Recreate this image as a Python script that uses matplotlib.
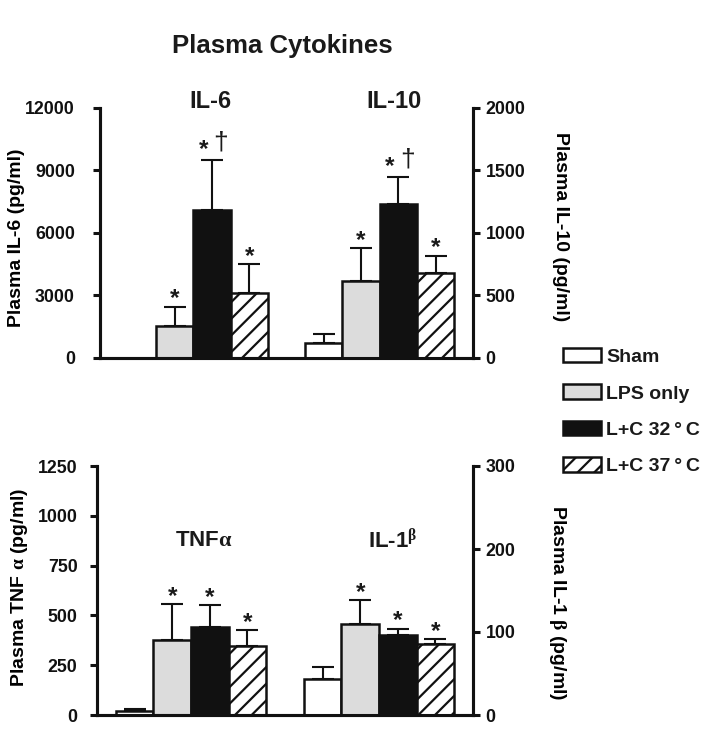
import matplotlib
matplotlib.use("Agg")
import matplotlib.pyplot as plt
from matplotlib.patches import Patch
import numpy as np

plt.rcParams['font.family'] = ['Liberation Sans', 'DejaVu Sans']
plt.rcParams['font.weight'] = 'bold'
plt.rcParams['mathtext.fontset'] = 'custom'
plt.rcParams['mathtext.rm'] = 'Liberation Serif'
plt.rcParams['mathtext.it'] = 'Liberation Serif:italic'
plt.rcParams['mathtext.bf'] = 'Liberation Sans:bold'
plt.rcParams['hatch.linewidth'] = 1.6
plt.rcParams['text.color'] = '#1a1a1a'

groups = ["Sham", "LPS only", "L+C 32\u2009°\u2009C", "L+C 37\u2009°\u2009C"]
colors = ["white", "#dcdcdc", "#111111", "white"]
hatches = [None, None, None, "//"]

il6 = [0, 1500, 7100, 3100]
il6_err = [0, 950, 2400, 1400]
il10 = [120, 615, 1230, 680]
il10_err = [70, 260, 220, 135]
tnf = [20, 378, 440, 345]
tnf_err = [10, 177, 110, 80]
il1b = [43, 110, 96, 86]
il1b_err = [15, 28, 8, 5]

il6_marks = ["", "*", "*†", "*"]
il10_marks = ["", "*", "*†", "*"]
tnf_marks = ["", "*", "*", "*"]
il1b_marks = ["", "*", "*", "*"]

W, H = 704, 730
fig = plt.figure(figsize=(W / 100, H / 100), dpi=100)


def fx(px):
    return px / W


def fy(px):
    return 1 - px / H


ax_top = fig.add_axes([fx(100), fy(357.5), fx(473) - fx(100), fy(108) - fy(357.5)])
ax_bot = fig.add_axes([fx(97), fy(715), fx(473) - fx(97), fy(466) - fy(715)])

pos1 = np.array([1, 2, 3, 4])
pos2 = np.array([6, 7, 8, 9])


def draw(ax, pos, vals, errs, marks):
    for i in range(4):
        ax.bar(pos[i], vals[i], width=1.0, color=colors[i], edgecolor='#111111',
               linewidth=1.8, hatch=hatches[i], zorder=2)
        if errs[i] > 0:
            ax.errorbar(pos[i], vals[i], yerr=[[0], [errs[i]]], fmt='none',
                        ecolor='#111111', elinewidth=1.5, capsize=8, capthick=1.5, zorder=1)
        top = vals[i] + errs[i]
        m = marks[i]
        if m == "*":
            ax.annotate("*", (pos[i], top), xytext=(0, 1), textcoords='offset points',
                        ha='center', va='baseline', fontsize=17.5, fontweight='bold')
        elif m == "*†":
            ax.annotate("*", (pos[i], top), xytext=(-6, 2.5), textcoords='offset points',
                        ha='center', va='baseline', fontsize=17.5, fontweight='bold')
            ax.annotate("†", (pos[i], top), xytext=(6.5, 12.5), textcoords='offset points',
                        ha='center', va='center', fontsize=19, fontweight='normal')


def style(ax):
    ax.set_xlim(0, 10)
    ax.set_xticks([])
    ax.spines['top'].set_visible(False)
    for s in ['left', 'right', 'bottom']:
        ax.spines[s].set_linewidth(2.2)
        ax.spines[s].set_color('#111111')
    ax.tick_params(axis='y', direction='out', length=5, width=2.2, labelsize=12.8, colors='#111111')


# top panel
ax_top2 = ax_top.twinx()
draw(ax_top, pos1, il6, il6_err, il6_marks)
draw(ax_top2, pos2, il10, il10_err, il10_marks)
ax_top.set_ylim(0, 12000)
ax_top.set_yticks([0, 3000, 6000, 9000, 12000])
ax_top2.set_ylim(0, 2000)
ax_top2.set_yticks([0, 500, 1000, 1500, 2000])
style(ax_top)
style(ax_top2)
ax_top.tick_params(axis='y', pad=13)
ax_top2.tick_params(axis='y', pad=4)
ax_top.set_ylabel("Plasma IL-6 (pg/ml)", fontsize=14, fontweight='bold', va='center')
ax_top.yaxis.set_label_coords(-0.225, 0.48)
ax_top2.set_ylabel("Plasma IL-10 (pg/ml)", fontsize=14, fontweight='bold', rotation=270, va='center')
ax_top2.yaxis.set_label_coords(1.235, 0.523)
ax_top.text(2.95, 1.025, "IL-6", transform=ax_top.get_xaxis_transform(), ha='center', va='center',
            fontsize=17, fontweight='bold')
ax_top.text(7.88, 1.025, "IL-10", transform=ax_top.get_xaxis_transform(), ha='center', va='center',
            fontsize=17, fontweight='bold')

# bottom panel
ax_bot2 = ax_bot.twinx()
draw(ax_bot, pos1, tnf, tnf_err, tnf_marks)
draw(ax_bot2, pos2, il1b, il1b_err, il1b_marks)
ax_bot.set_ylim(0, 1250)
ax_bot.set_yticks([0, 250, 500, 750, 1000, 1250])
ax_bot2.set_ylim(0, 300)
ax_bot2.set_yticks([0, 100, 200, 300])
style(ax_bot)
style(ax_bot2)
ax_bot.tick_params(axis='y', pad=9)
ax_bot2.tick_params(axis='y', pad=4)
ax_bot.set_ylabel("Plasma TNF $\\mathrm{\\alpha}$ (pg/ml)", fontsize=14, fontweight='bold', va='center')
ax_bot.yaxis.set_label_coords(-0.207, 0.514)
ax_bot2.set_ylabel("Plasma IL-1 $\\mathrm{\\beta}$ (pg/ml)", fontsize=14, fontweight='bold',
                   rotation=270, va='center')
ax_bot2.yaxis.set_label_coords(1.225, 0.45)
ax_bot.text(2.85, 0.7, "TNF$\\mathrm{\\alpha}$", transform=ax_bot.get_xaxis_transform(),
            ha='center', va='center', fontsize=16, fontweight='bold')
ax_bot.text(7.87, 0.7, "IL-1$^{\\mathrm{\\beta}}$", transform=ax_bot.get_xaxis_transform(),
            ha='center', va='center', fontsize=16, fontweight='bold')

# title
fig.text(fx(282), fy(46), "Plasma Cytokines", ha='center', va='center', fontsize=18.5, fontweight='bold')

# legend
handles = [Patch(facecolor=colors[i], edgecolor='#111111', linewidth=1.8, hatch=hatches[i])
           for i in range(4)]
fig.legend(handles, groups, loc='upper left', bbox_to_anchor=(fx(563), fy(348)),
           frameon=False, fontsize=14, handlelength=1.96, handleheight=0.77,
           labelspacing=0.95, handletextpad=0.26, borderaxespad=0, borderpad=0)

fig.savefig("out.png", dpi=100)
